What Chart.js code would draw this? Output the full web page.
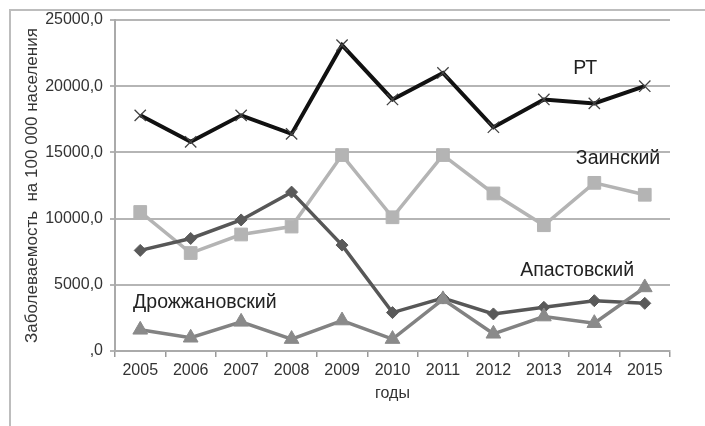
<!DOCTYPE html>
<html>
<head>
<meta charset="utf-8">
<script src="https://cdn.jsdelivr.net/npm/chart.js@4"></script>
<style>
  html, body { margin: 0; padding: 0; background: #fff; }
  #wrap { position: relative; width: 705px; height: 426px; overflow: hidden; }
  #frame { position: absolute; left: 9px; top: 9px; width: 720px; height: 440px;
           border-left: 2px solid #bdbdbd; border-top: 2px solid #bdbdbd; }
  canvas { position: absolute; left: 0; top: 0; }
</style>
</head>
<body>
<div id="wrap">
  <div id="frame"></div>
  <canvas id="chart" width="705" height="426"></canvas>
</div>
<script>
  // years on the x axis
  const years = ["2005","2006","2007","2008","2009","2010","2011","2012","2013","2014","2015"];

  // incidence per 100 000 population
  const rt        = [17800, 15800, 17800, 16400, 23100, 19000, 21000, 16900, 19000, 18700, 20000];
  const zainsk    = [10500,  7400,  8800,  9400, 14800, 10100, 14800, 11900,  9500, 12700, 11800];
  const apastovo  = [ 7600,  8500,  9900, 12000,  8000,  2900,  4000,  2800,  3300,  3800,  3600];
  const drozhzh   = [ 1600,  1000,  2200,   900,  2300,   900,  3900,  1300,  2600,  2100,  4800];

  const yTicks = [0, 5000, 10000, 15000, 20000, 25000];

  // in-plot series labels: text, category position, value position
  const tagText  = ["РТ", "Заинский", "Апастовский", "Дрожжановский"];
  const tagIndex = [8.82, 9.47, 8.66, 1.28];
  const tagValue = [21300, 14550, 6100, 3620];

  const FONT = "'Liberation Sans', Arial, sans-serif";

  // draw the series names inside the plot, placed through the scales
  const seriesTags = {
    id: "seriesTags",
    afterDatasetsDraw(chart) {
      const { ctx, scales } = chart;
      ctx.save();
      ctx.font = "19.5px " + FONT;
      ctx.fillStyle = "#222";
      ctx.textAlign = "center";
      ctx.textBaseline = "middle";
      tagText.forEach((t, i) => {
        ctx.fillText(t, scales.x.getPixelForValue(tagIndex[i]), scales.y.getPixelForValue(tagValue[i]));
      });
      ctx.restore();
    }
  };

  new Chart(document.getElementById("chart"), {
    type: "line",
    data: {
      labels: years,
      datasets: [
        { label: "Дрожжановский", data: drozhzh, borderColor: "#828282", backgroundColor: "#8a8a8a",
          borderWidth: 3.5, pointStyle: "triangle", pointRadius: 8.5, pointBorderColor: "#8a8a8a", pointBorderWidth: 1 },
        { label: "Апастовский", data: apastovo, borderColor: "#575757", backgroundColor: "#5a5a5a",
          borderWidth: 3.5, pointStyle: "rectRot", pointRadius: 6, pointBorderColor: "#5a5a5a", pointBorderWidth: 1 },
        { label: "Заинский", data: zainsk, borderColor: "#b4b4b4", backgroundColor: "#b4b4b4",
          borderWidth: 3.5, pointStyle: "rect", pointRadius: 9, pointBorderColor: "#b4b4b4", pointBorderWidth: 1 },
        { label: "РТ", data: rt, borderColor: "#111", backgroundColor: "#111",
          borderWidth: 4, pointStyle: "crossRot", pointRadius: 8, pointBorderColor: "#444", pointBorderWidth: 1.3 }
      ]
    },
    options: {
      responsive: false,
      animation: false,
      devicePixelRatio: 1,
      layout: { padding: { left: 0, top: 20, right: 35, bottom: 0 } },
      plugins: { legend: { display: false }, tooltip: { enabled: false } },
      elements: { line: { tension: 0 } },
      scales: {
        x: {
          offset: true,
          grid: { offset: true, drawOnChartArea: false, drawTicks: true, tickLength: 6, color: "#999", lineWidth: 1.5 },
          border: { color: "#aaa", width: 2 },
          ticks: { color: "#333", font: { family: FONT, size: 16 }, padding: 4, maxRotation: 0 },
          title: { display: true, text: "годы", color: "#333", font: { family: FONT, size: 16 }, padding: { top: 0, bottom: 23 } },
          afterFit(s) { s.height = 75; }
        },
        y: {
          min: 0, max: 25000,
          afterBuildTicks(s) { s.ticks = yTicks.map(v => ({ value: v })); },
          grid: { color: "#b5b5b5", lineWidth: 2, tickLength: 5 },
          border: { color: "#aaa", width: 2 },
          ticks: {
            color: "#333", font: { family: FONT, size: 16 }, padding: 7,
            callback: v => v === 0 ? ",0" : v + ",0"
          },
          title: { display: true, text: "Заболеваемость  на 100 000 населения", color: "#333",
                   font: { family: FONT, size: 17 }, padding: { top: 22, bottom: 0 } },
          afterFit(s) { s.width = 115; }
        }
      }
    },
    plugins: [seriesTags]
  });
</script>
</body>
</html>
